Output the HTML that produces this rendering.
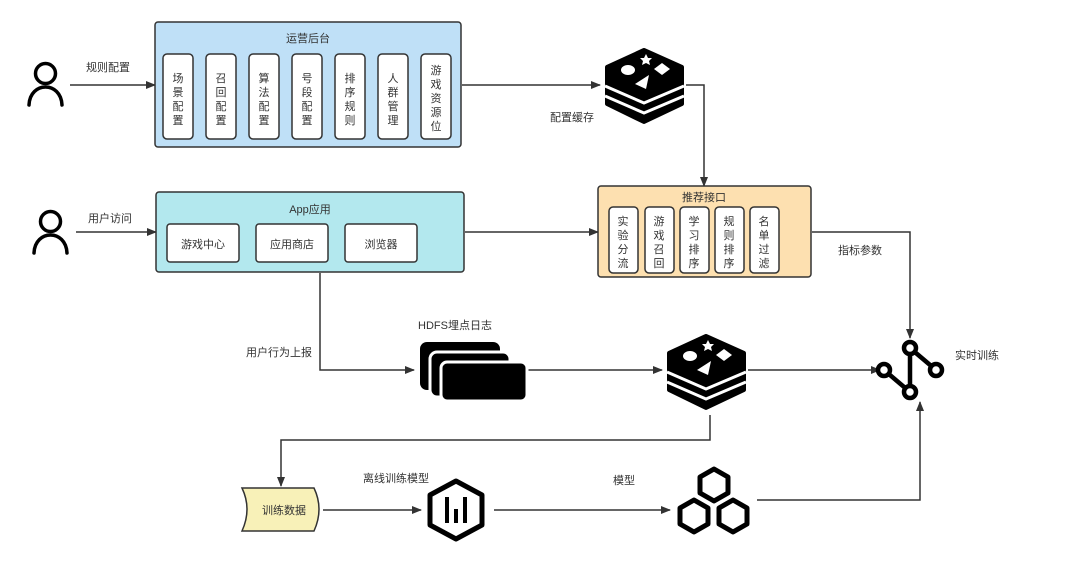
<!DOCTYPE html>
<html><head><meta charset="utf-8"><style>
html,body{margin:0;padding:0;background:#fff;}
svg{display:block;font-family:"Liberation Sans","Noto Sans CJK SC",sans-serif;}
text{fill:#333;font-size:11px;}
</style></head><body>
<svg width="1080" height="567" viewBox="0 0 1080 567" xmlns="http://www.w3.org/2000/svg">
<defs>
<marker id="a" markerWidth="10" markerHeight="8" refX="9" refY="4" orient="auto" markerUnits="userSpaceOnUse">
<path d="M0,0 L10,4 L0,8 Z" fill="#333"/></marker>
<g id="redis">
<path d="M0,17 L37,0 L75,17 L75,54 L37,72 L0,54 Z" fill="#000" stroke="#000" stroke-width="4" stroke-linejoin="round"/>
<polyline points="-2,36 37,53 77,36" fill="none" stroke="#fff" stroke-width="3"/>
<polyline points="-2,46 37,63 77,46" fill="none" stroke="#fff" stroke-width="3"/>
<ellipse cx="21" cy="20" rx="7" ry="5" fill="#fff"/>
<path d="M39,4 l2,4 4,0 -3,3 1,4 -4,-2 -4,2 1,-4 -3,-3 4,0z" fill="#fff"/>
<path d="M55,13 l8,6 -8,6 -8,-6z" fill="#fff"/>
<path d="M28,34 l14,-9 -3,14z" fill="#fff"/>
</g>
<g id="person"><circle cx="18.5" cy="9.5" r="10" fill="none" stroke="#000" stroke-width="3.5"/><path d="M2,41 C3,17 34,17 35,41" fill="none" stroke="#000" stroke-width="3.5" stroke-linecap="round"/></g>
</defs>
<g stroke="#333" stroke-width="1.5" fill="none">
<line x1="70" y1="85" x2="155" y2="85" marker-end="url(#a)"/>
<line x1="462" y1="85" x2="600" y2="85" marker-end="url(#a)"/>
<polyline points="686,85 704,85 704,186" marker-end="url(#a)"/>
<line x1="76" y1="232" x2="156" y2="232" marker-end="url(#a)"/>
<line x1="465" y1="232" x2="598" y2="232" marker-end="url(#a)"/>
<polyline points="812,232 910,232 910,338" marker-end="url(#a)"/>
<polyline points="320,273 320,370 414,370" marker-end="url(#a)"/>
<line x1="513" y1="370" x2="662" y2="370" marker-end="url(#a)"/>
<line x1="748" y1="370" x2="880" y2="370" marker-end="url(#a)"/>
<polyline points="710,415 710,440 281,440 281,486" marker-end="url(#a)"/>
<line x1="323" y1="510" x2="421" y2="510" marker-end="url(#a)"/>
<line x1="494" y1="510" x2="670" y2="510" marker-end="url(#a)"/>
<polyline points="757,500 920,500 920,402" marker-end="url(#a)"/>
</g>
<use href="#person" x="27" y="64"/>
<use href="#person" x="32" y="212"/>
<rect x="155" y="22" width="306" height="125" rx="3" fill="#bfe0f7" stroke="#333" stroke-width="1.5"/>
<text x="308" y="42" text-anchor="middle">运营后台</text>
<g fill="#fff" stroke="#333" stroke-width="1.5">
<rect x="163" y="54" width="30" height="85" rx="4"/><rect x="206" y="54" width="30" height="85" rx="4"/><rect x="249" y="54" width="30" height="85" rx="4"/><rect x="292" y="54" width="30" height="85" rx="4"/><rect x="335" y="54" width="30" height="85" rx="4"/><rect x="378" y="54" width="30" height="85" rx="4"/><rect x="421" y="54" width="30" height="85" rx="4"/>
</g>
<g text-anchor="middle" font-size="12">
<text x="178" y="82">场</text><text x="178" y="96">景</text><text x="178" y="110">配</text><text x="178" y="124">置</text>
<text x="221" y="82">召</text><text x="221" y="96">回</text><text x="221" y="110">配</text><text x="221" y="124">置</text>
<text x="264" y="82">算</text><text x="264" y="96">法</text><text x="264" y="110">配</text><text x="264" y="124">置</text>
<text x="307" y="82">号</text><text x="307" y="96">段</text><text x="307" y="110">配</text><text x="307" y="124">置</text>
<text x="350" y="82">排</text><text x="350" y="96">序</text><text x="350" y="110">规</text><text x="350" y="124">则</text>
<text x="393" y="82">人</text><text x="393" y="96">群</text><text x="393" y="110">管</text><text x="393" y="124">理</text>
<text x="436" y="74">游</text><text x="436" y="88">戏</text><text x="436" y="102">资</text><text x="436" y="116">源</text><text x="436" y="130">位</text>
</g>
<text x="86" y="71">规则配置</text>
<text x="88" y="222">用户访问</text>
<rect x="156" y="192" width="308" height="80" rx="3" fill="#b3e8ee" stroke="#333" stroke-width="1.5"/>
<text x="310" y="213" text-anchor="middle">App应用</text>
<g fill="#fff" stroke="#333" stroke-width="1.5">
<rect x="167" y="224" width="72" height="38" rx="3"/><rect x="256" y="224" width="72" height="38" rx="3"/><rect x="345" y="224" width="72" height="38" rx="3"/>
</g>
<g text-anchor="middle"><text x="203" y="248">游戏中心</text><text x="292" y="248">应用商店</text><text x="381" y="248">浏览器</text></g>
<use href="#redis" x="607" y="50"/>
<text x="550" y="121">配置缓存</text>
<rect x="598" y="186" width="213" height="91" rx="3" fill="#fde0b0" stroke="#333" stroke-width="1.5"/>
<text x="704" y="201" text-anchor="middle">推荐接口</text>
<g fill="#fff" stroke="#333" stroke-width="1.5">
<rect x="609" y="207" width="29" height="66" rx="4"/><rect x="645" y="207" width="29" height="66" rx="4"/><rect x="680" y="207" width="29" height="66" rx="4"/><rect x="715" y="207" width="29" height="66" rx="4"/><rect x="750" y="207" width="29" height="66" rx="4"/>
</g>
<g text-anchor="middle" font-size="12">
<text x="623" y="225">实</text><text x="623" y="239">验</text><text x="623" y="253">分</text><text x="623" y="267">流</text>
<text x="659" y="225">游</text><text x="659" y="239">戏</text><text x="659" y="253">召</text><text x="659" y="267">回</text>
<text x="694" y="225">学</text><text x="694" y="239">习</text><text x="694" y="253">排</text><text x="694" y="267">序</text>
<text x="729" y="225">规</text><text x="729" y="239">则</text><text x="729" y="253">排</text><text x="729" y="267">序</text>
<text x="764" y="225">名</text><text x="764" y="239">单</text><text x="764" y="253">过</text><text x="764" y="267">滤</text>
</g>
<text x="838" y="254">指标参数</text>
<g stroke="#000" stroke-width="4.5" fill="#fff">
<line x1="910" y1="348" x2="910" y2="392"/>
<line x1="884" y1="370" x2="910" y2="392"/>
<line x1="910" y1="348" x2="936" y2="370"/>
<circle cx="910" cy="348" r="6"/><circle cx="936" cy="370" r="6"/><circle cx="884" cy="370" r="6"/><circle cx="910" cy="392" r="6"/>
</g>
<text x="955" y="359">实时训练</text>
<text x="246" y="356">用户行为上报</text>
<text x="418" y="329">HDFS埋点日志</text>
<rect x="420" y="342" width="80" height="48" rx="7" fill="#000"/>
<rect x="430" y="352" width="80" height="45" rx="7" fill="#000" stroke="#fff" stroke-width="3"/>
<rect x="441" y="362" width="86" height="39" rx="6" fill="#000" stroke="#fff" stroke-width="3"/>
<use href="#redis" x="669" y="336"/>
<path d="M242,488 L314,488 Q324,509 314,531 L242,531 Q252,509 242,488Z" fill="#f8f1b8" stroke="#333" stroke-width="1.5"/>
<text x="284" y="514" text-anchor="middle">训练数据</text>
<text x="363" y="482">离线训练模型</text>
<path d="M456,481 L482,495 L482,525 L456,539 L430,525 L430,495Z" fill="none" stroke="#000" stroke-width="5" stroke-linejoin="round"/>
<g fill="#000"><rect x="445" y="497" width="4" height="26"/><rect x="454" y="509" width="4" height="14"/><rect x="463" y="497" width="4" height="26"/></g>
<text x="613" y="484">模型</text>
<g fill="none" stroke="#000" stroke-width="5" stroke-linejoin="round">
<path d="M714,469 L728,477 L728,493 L714,501 L700,493 L700,477Z"/>
<path d="M694,500 L708,508 L708,524 L694,532 L680,524 L680,508Z"/>
<path d="M733,500 L747,508 L747,524 L733,532 L719,524 L719,508Z"/>
</g>
</svg>
</body></html>
